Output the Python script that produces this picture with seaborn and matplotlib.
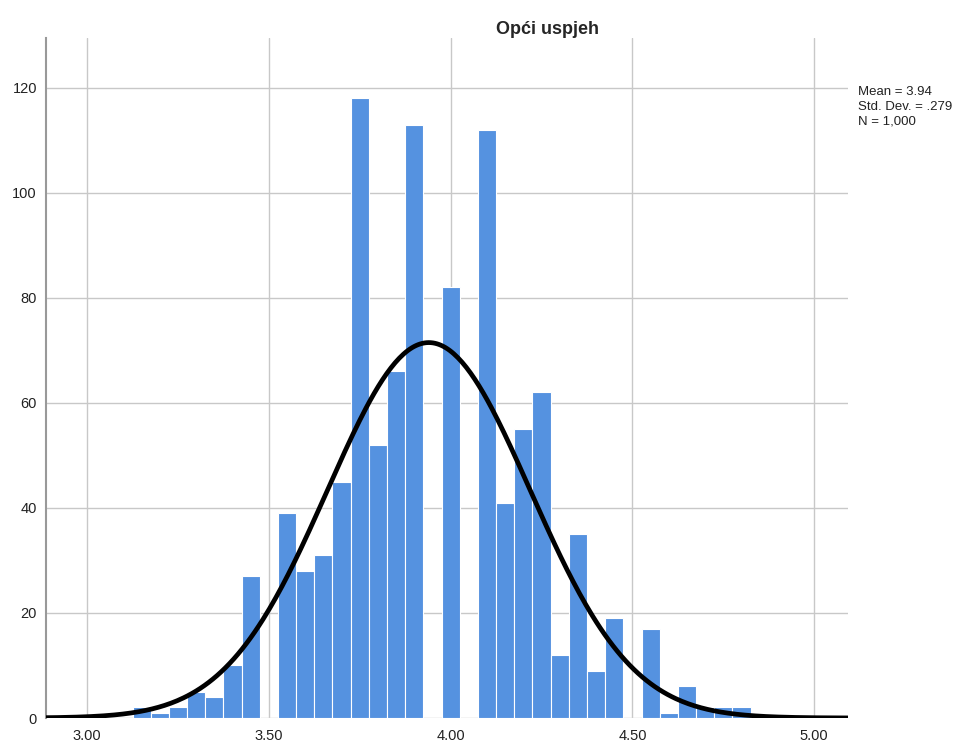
import numpy as np
import pandas as pd
import matplotlib
matplotlib.use("Agg")
import matplotlib.pyplot as plt
import seaborn as sns

# Histogram of "Opći uspjeh" (SPSS style), bin width 0.05
bin_centers = [3.15, 3.20, 3.25, 3.30, 3.35, 3.40, 3.45, 3.50, 3.55, 3.60,
               3.65, 3.70, 3.75, 3.80, 3.85, 3.90, 3.95, 4.00, 4.05, 4.10,
               4.15, 4.20, 4.25, 4.30, 4.35, 4.40, 4.45, 4.50, 4.55, 4.60,
               4.65, 4.70, 4.75, 4.80]
counts = [2, 1, 2, 5, 4, 10, 27, 0, 39, 28,
          31, 45, 118, 52, 66, 113, 0, 82, 0, 112,
          41, 55, 62, 12, 35, 9, 19, 0, 17, 1,
          6, 2, 2, 2]
mean_val = 3.94
sd_val = 0.279
n_val = 1000
bin_width = 0.05

x_ticks = [3.0, 3.5, 4.0, 4.5, 5.0]
x_tick_labels = ["3.00", "3.50", "4.00", "4.50", "5.00"]
y_ticks = [0, 20, 40, 60, 80, 100, 120]

df = pd.DataFrame({"center": bin_centers, "count": counts})

sns.set_style("white")
plt.rcParams["font.family"] = ["Liberation Sans", "DejaVu Sans"]

fig = plt.figure(figsize=(9.72, 7.43), dpi=100)
ax = fig.add_axes([46 / 972, 1 - 718 / 743, (848 - 46) / 972, (718 - 38) / 743])

sns.histplot(data=df, x="center", weights="count", binwidth=bin_width,
             binrange=(bin_centers[0] - bin_width / 2, bin_centers[-1] + bin_width / 2),
             ax=ax, color="#5592e0", alpha=1, edgecolor="white", linewidth=0.8, zorder=2)

# fitted normal curve
xs = np.linspace(2.85, 5.15, 400)
ys = n_val * bin_width / (sd_val * np.sqrt(2 * np.pi)) * np.exp(-0.5 * ((xs - mean_val) / sd_val) ** 2)
sns.lineplot(x=xs, y=ys, ax=ax, color="black", linewidth=3.4, zorder=3)

ax.set_xlim(2.887, 5.093)
ax.set_ylim(0, 129.5)
ax.set_xticks(x_ticks)
ax.set_xticklabels(x_tick_labels)
ax.set_yticks(y_ticks)
ax.grid(True, color="#c8c8c8", linewidth=1, zorder=0)
ax.set_axisbelow(True)
ax.set_xlabel("")
ax.set_ylabel("")
ax.tick_params(axis="both", labelsize=10.5, colors="#222222", length=3, width=0.8)
ax.tick_params(axis="x", pad=8, length=0)
for s in ["top", "right", "bottom"]:
    ax.spines[s].set_visible(False)
ax.spines["left"].set_color("#999999")
ax.spines["left"].set_linewidth(1.5)

fig.text(547 / 972, 1 - 29 / 743, "Opći uspjeh", ha="center", va="center",
         fontsize=13, fontweight="bold")
fig.text(858 / 972, 1 - 86 / 743, "Mean = 3.94\nStd. Dev. = .279\nN = 1,000",
         ha="left", va="top", fontsize=9.5, linespacing=1.3, color="#222222")

fig.savefig("out.png", dpi=100)
